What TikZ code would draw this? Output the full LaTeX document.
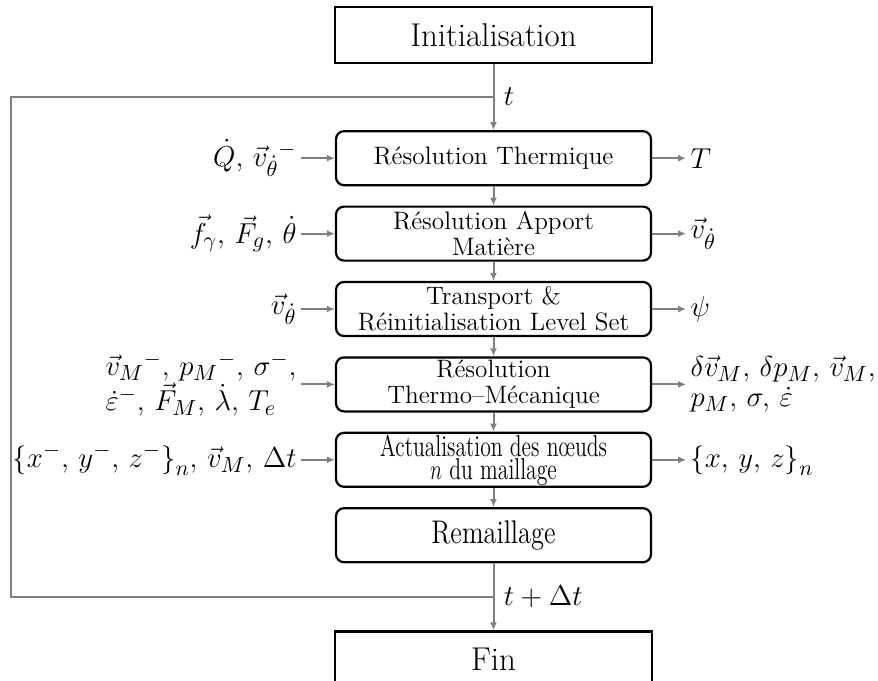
\documentclass[tikz,border=0pt]{standalone}
\usepackage{graphicx}
\usetikzlibrary{arrows.meta,positioning,calc}

\begin{document}
\begin{tikzpicture}[
  x=0.5pt, y=-0.5pt,
  node distance = 9.6pt,
  endbox/.style  = {rectangle, draw, line width=1.1pt,
                    minimum width=158.5pt, minimum height=28pt,
                    font=\fontsize{16.5}{19}\selectfont},
  stepbox/.style = {rectangle, draw, line width=1.1pt, rounded corners=4pt,
                    text width=150pt, align=center, minimum width=157.5pt,
                    minimum height=27pt, inner ysep=0pt,
                    font=\fontsize{12.6}{14.5}\selectfont},
  var/.style     = {inner xsep=2pt, inner ysep=1pt, align=left,
                    font=\fontsize{15}{15}\selectfont},
  tvar/.style    = {inner sep=1pt, font=\fontsize{13.5}{15}\selectfont},
  arr/.style     = {-{Latex[length=4pt,width=3.5pt]}, gray, line width=1pt},
  backline/.style = {gray, line width=1pt}
]
\useasboundingbox (0,0) rectangle (878,680);

% main chain
\node[endbox] (init) at (493.5,35) {Initialisation};
\node[stepbox, below=33pt of init] (therm) {Résolution Thermique};
\node[stepbox, below=of therm] (appo) {Résolution Apport\\[-1.5pt]Matière};
\node[stepbox, below=of appo]  (lset) {Transport \&\\[-1.5pt]Réinitialisation Level Set};
\node[stepbox, below=of lset]  (meca) {Résolution\\[-1.5pt]Thermo--Mécanique};
\node[stepbox, below=of meca]  (mesh) {\scalebox{0.86}[1.2]{Actualisation des nœuds}\\[-3pt]
                                       \scalebox{0.86}[1.2]{$n$ du maillage}};
\node[stepbox, below=of mesh]  (rema) {\scalebox{1.05}[1.3]{Remaillage}};
\node[endbox, below=33.5pt of rema] (fin) {Fin};

% inputs
\node[var, left=17pt of therm] (qin)  {$\dot{Q},\, \vec{v}_{\dot\theta}{}^{-}$};
\node[var, left=17pt of appo]  (fin1) {$\vec{f}_\gamma,\, \vec{F}_g,\, \dot\theta$};
\node[var, left=17pt of lset]  (vin)  {$\vec{v}_{\dot\theta}$};
\node[var, left=17pt of meca]  (min)  {$\vec{v}_M{}^{-},\, p_M{}^{-},\, \sigma^-,$\\
                                       $\dot\varepsilon^-,\, \vec{F}_M,\, \dot\lambda,\, T_e$};
\node[var, left=17pt of mesh]  (xin)  {$\Bigl\{x^-,\, y^-,\, z^-\Bigr\}_n,\, \vec{v}_M,\, \Delta t$};

% outputs
\node[var, right=17pt of therm] (tout) {$T$};
\node[var, right=17pt of appo]  (vout) {$\vec{v}_{\dot\theta}$};
\node[var, right=17pt of lset]  (pout) {$\psi$};
\node[var, right=17pt of meca]  (mout) {$\delta\vec{v}_M,\, \delta p_M,\, \vec{v}_M,$\\
                                        $p_M,\, \sigma,\, \dot\varepsilon$};
\node[var, right=17pt of mesh]  (xout) {$\Bigl\{x,\, y,\, z\Bigr\}_n$};

\draw[arr] (init) -- (therm);
\draw[arr] (therm) -- (appo);
\draw[arr] (appo)  -- (lset);
\draw[arr] (lset)  -- (meca);
\draw[arr] (meca)  -- (mesh);
\draw[arr] (mesh)  -- (rema);
\draw[arr] (rema)  -- (fin);

\draw[arr] (qin)  -- (therm);
\draw[arr] (fin1) -- (appo);
\draw[arr] (vin)  -- (lset);
\draw[arr] (min)  -- (meca);
\draw[arr] (xin)  -- (mesh);
\draw[arr] (therm) -- (tout);
\draw[arr] (appo)  -- (vout);
\draw[arr] (lset)  -- (pout);
\draw[arr] (meca)  -- (mout);
\draw[arr] (mesh)  -- (xout);

% time loop
\coordinate (tstart) at ($(init.south)!0.5!(therm.north)$);
\coordinate (tnext)  at ($(rema.south)!0.5!(fin.north)$);
\coordinate (loopx)  at (11,0);
\draw[backline] (tnext) -- (tnext -| loopx) |- (tstart);
\node[tvar, right=4pt of tstart] (tlab)  {$t$};
\node[tvar, right=4pt of tnext]  (dtlab) {$t + \Delta t$};
\end{tikzpicture}
\end{document}
